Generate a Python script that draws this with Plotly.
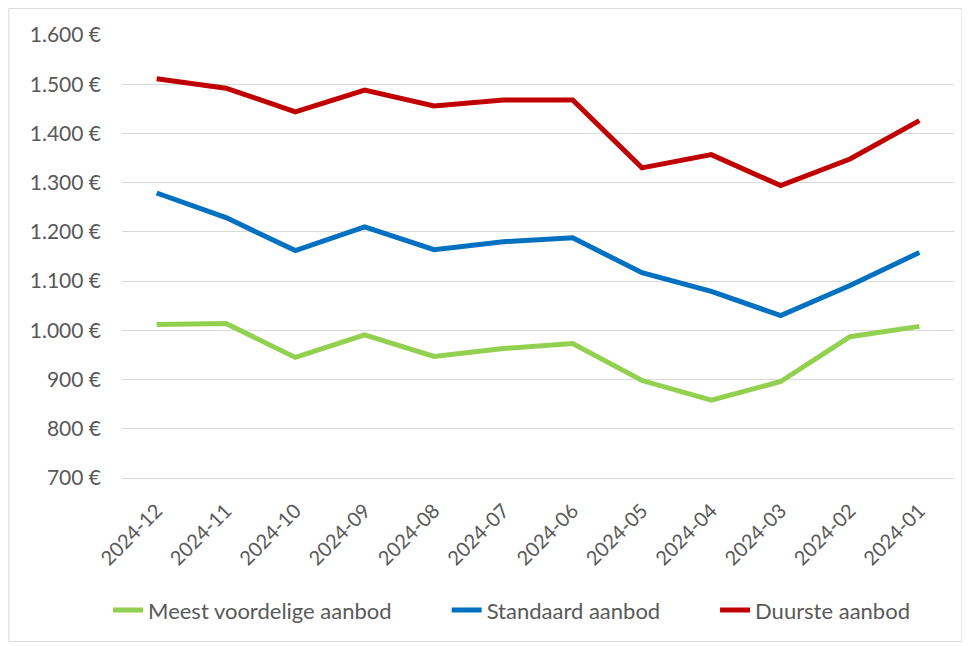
import plotly.graph_objects as go

months = ["2024-12", "2024-11", "2024-10", "2024-09", "2024-08", "2024-07",
          "2024-06", "2024-05", "2024-04", "2024-03", "2024-02", "2024-01"]
meest_voordelig = [1012, 1014, 945, 991, 947, 963, 973, 898, 858, 896, 987, 1008]
standaard = [1279, 1229, 1162, 1210, 1164, 1180, 1188, 1117, 1079, 1030, 1091, 1158]
duurste = [1511, 1492, 1444, 1488, 1456, 1468, 1468, 1330, 1357, 1294, 1348, 1426]
y_ticks = [700, 800, 900, 1000, 1100, 1200, 1300, 1400, 1500, 1600]
y_tick_text = [f"{v:,}".replace(",", ".") + " €" for v in y_ticks]

series = [
    ("Meest voordelige aanbod", meest_voordelig, "#92D050", "legend"),
    ("Standaard aanbod", standaard, "#0070C0", "legend2"),
    ("Duurste aanbod", duurste, "#C00000", "legend3"),
]

fig = go.Figure()
for name, vals, color, lg in series:
    fig.add_trace(go.Scatter(x=months, y=vals, name=name, mode="lines",
                             line=dict(color=color, width=5), legend=lg))

FAM = "Lato, Open Sans, sans-serif"


def legend_box(x):
    return dict(orientation="h", xref="container", yref="container",
                x=x, xanchor="left", y=0.056, yanchor="middle",
                font=dict(size=22, color="#595959", family=FAM),
                bgcolor="rgba(0,0,0,0)")


fig.update_layout(
    width=962, height=638,
    margin=dict(l=114, r=16, t=27, b=168),
    paper_bgcolor="white", plot_bgcolor="white",
    font=dict(family=FAM, color="#595959", size=20),
    showlegend=True,
    legend=legend_box(0.104),
    legend2=legend_box(0.456),
    legend3=legend_box(0.735),
    xaxis=dict(type="category", range=[-0.5, 11.5], tickangle=-45,
               showgrid=False, showline=True, linecolor="#d9d9d9", linewidth=1.3,
               ticks="", ticklabelstandoff=12,
               tickfont=dict(size=20, color="#595959", family=FAM)),
    yaxis=dict(range=[700, 1600], tickmode="array", tickvals=y_ticks, ticktext=y_tick_text,
               showgrid=True, gridcolor="#d9d9d9", gridwidth=1.3, zeroline=False,
               ticks="", ticklabelstandoff=20,
               tickfont=dict(size=21, color="#595959", family=FAM)),
    shapes=[dict(type="rect", xref="paper", yref="paper",
                 x0=-0.136, x1=1.0096, y0=-0.369, y1=1.060,
                 line=dict(color="#d9d9d9", width=1), layer="below")],
)
fig.write_html("out.html")
